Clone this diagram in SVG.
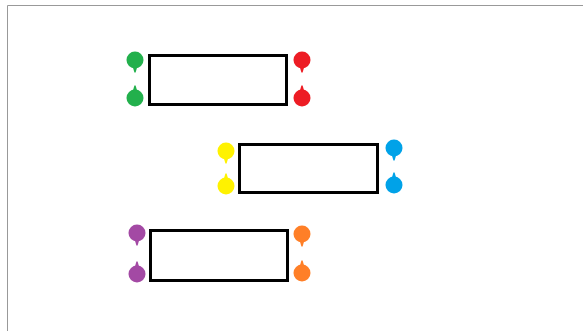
<svg xmlns="http://www.w3.org/2000/svg" xmlns:xlink="http://www.w3.org/1999/xlink" width="583" height="331" viewBox="0 0 583 331">
<style>
.box{fill:#fff;stroke:#000;stroke-width:3}
.frame{fill:none;stroke:#999;stroke-width:1}
</style>
<defs>
<g id="pinDown"><circle r="8.5"/><path d="M-2.5,6 L2.5,6 L0.6,12.5 L-0.6,12.5 Z"/></g>
<g id="pinUp"><circle r="8.5"/><path d="M-2.5,-6 L2.5,-6 L0.6,-12.5 L-0.6,-12.5 Z"/></g>
</defs>
<rect width="583" height="331" fill="#fff"/>
<path class="frame" d="M7.5,331 V5.5 H583"/>
<g id="connectors"/>
<g id="node1">
<rect class="box" x="149.5" y="55.5" width="137" height="49"/>
<use xlink:href="#pinDown" x="135" y="60" fill="#22b04c"/>
<use xlink:href="#pinUp" x="135" y="98" fill="#22b04c"/>
<use xlink:href="#pinDown" x="302" y="60" fill="#ed1c24"/>
<use xlink:href="#pinUp" x="302" y="98" fill="#ed1c24"/>
</g>
<g id="node2">
<rect class="box" x="239.5" y="144.5" width="138" height="48"/>
<use xlink:href="#pinDown" x="226" y="151" fill="#fff200"/>
<use xlink:href="#pinUp" x="226" y="186" fill="#fff200"/>
<use xlink:href="#pinDown" x="394" y="148" fill="#00a2e8"/>
<use xlink:href="#pinUp" x="394" y="185" fill="#00a2e8"/>
</g>
<g id="node3">
<rect class="box" x="150.5" y="230.5" width="137" height="50"/>
<use xlink:href="#pinDown" x="137" y="233" fill="#a349a4"/>
<use xlink:href="#pinUp" x="137" y="274" fill="#a349a4"/>
<use xlink:href="#pinDown" x="302" y="234" fill="#ff7f27"/>
<use xlink:href="#pinUp" x="302" y="273" fill="#ff7f27"/>
</g>
</svg>
